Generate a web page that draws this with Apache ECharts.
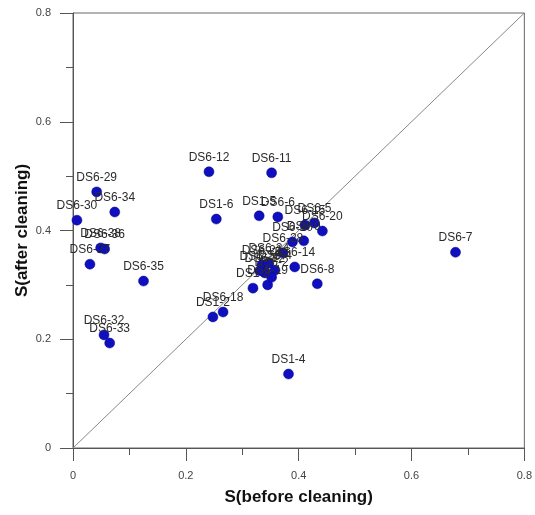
<!DOCTYPE html>
<html>
<head>
<meta charset="utf-8">
<script src="https://cdn.jsdelivr.net/npm/echarts@6/dist/echarts.min.js"></script>
<style>
  html, body { margin: 0; padding: 0; background: #fff; }
  #chart { width: 535px; height: 515px; }
</style>
</head>
<body>
<div id="chart"></div>
<script>
// Sample names and separation ratio before / after cleaning
const sampleNames = [
  'DS6-29', 'DS6-34', 'DS6-30', 'DS6-38', 'DS6-36', 'DS6-27', 'DS6-35', 'DS6-32', 'DS6-33',
  'DS6-12', 'DS6-11', 'DS1-6', 'DS1-5', 'DS6-6', 'DS6-15', 'DS6-5', 'DS6-20',
  'DS6-10', 'DS6-9', 'DS6-28', 'DS6-14', 'DS6-8', 'DS1-3', 'DS6-19',
  'DS6-21', 'DS6-24', 'DS6-4', 'DS6-22', 'DS6-2', 'DS6-26',
  'DS6-18', 'DS1-2', 'DS1-4', 'DS6-7'
];
const sBefore = [
  0.042, 0.074, 0.007, 0.049, 0.056, 0.030, 0.125, 0.055, 0.065,
  0.241, 0.352, 0.254, 0.330, 0.363, 0.411, 0.428, 0.442,
  0.389, 0.409, 0.372, 0.393, 0.433, 0.319, 0.345,
  0.335, 0.347, 0.358, 0.340, 0.352, 0.331,
  0.266, 0.248, 0.382, 0.678
];
const sAfter = [
  0.471, 0.434, 0.419, 0.368, 0.366, 0.338, 0.307, 0.208, 0.193,
  0.508, 0.506, 0.421, 0.427, 0.425, 0.410, 0.414, 0.399,
  0.379, 0.381, 0.359, 0.333, 0.302, 0.294, 0.300,
  0.337, 0.340, 0.327, 0.322, 0.314, 0.326,
  0.250, 0.241, 0.136, 0.360
];
// 1:1 reference line
const diagX = [0, 0.8];
const diagY = [0, 0.8];
const axisTicks = [0, 0.2, 0.4, 0.6, 0.8];

const points = sampleNames.map((n, i) => ({ name: n, value: [sBefore[i], sAfter[i]] }));
const diagonal = diagX.map((x, i) => [x, diagY[i]]);

const axisCommon = {
  type: 'value',
  min: axisTicks[0],
  max: axisTicks[axisTicks.length - 1],
  interval: axisTicks[1] - axisTicks[0],
  nameLocation: 'middle',
  nameMoveOverlap: false,
  nameTextStyle: { fontFamily: 'Liberation Sans, Arial', fontWeight: 'bold', fontSize: 17, color: '#111' },
  axisLine: { show: true, onZero: false, lineStyle: { color: '#555', width: 1 } },
  axisTick: { show: true, inside: false, length: 13, lineStyle: { color: '#555' } },
  minorTick: { show: true, splitNumber: 2, length: 7, lineStyle: { color: '#555' } },
  splitLine: { show: false },
  axisLabel: { fontFamily: 'Liberation Sans, Arial', fontSize: 11, color: '#444', margin: 22 }
};

const chart = echarts.init(document.getElementById('chart'), null, { renderer: 'canvas' });
chart.setOption({
  animation: false,
  backgroundColor: '#fff',
  grid: { left: 73, top: 13, width: 454, height: 435, show: true, borderColor: '#666', borderWidth: 1 },
  xAxis: Object.assign({}, axisCommon, { name: 'S(before cleaning)', nameGap: 41 }),
  yAxis: Object.assign({}, axisCommon, { name: 'S(after cleaning)', nameGap: 42 }),
  series: [
    {
      type: 'line',
      data: diagonal,
      symbol: 'none',
      silent: true,
      lineStyle: { color: '#888', width: 1 },
      z: 1
    },
    {
      type: 'scatter',
      data: points,
      symbol: 'circle',
      symbolSize: 10,
      itemStyle: { color: '#0f0fc0', opacity: 1, borderColor: '#06068a', borderWidth: 0.5 },
      label: {
        show: true,
        position: 'top',
        distance: 3,
        formatter: p => p.name,
        fontFamily: 'Liberation Sans, Arial',
        fontSize: 12,
        color: '#2a2a2a'
      },
      z: 3
    }
  ]
});
</script>
</body>
</html>
